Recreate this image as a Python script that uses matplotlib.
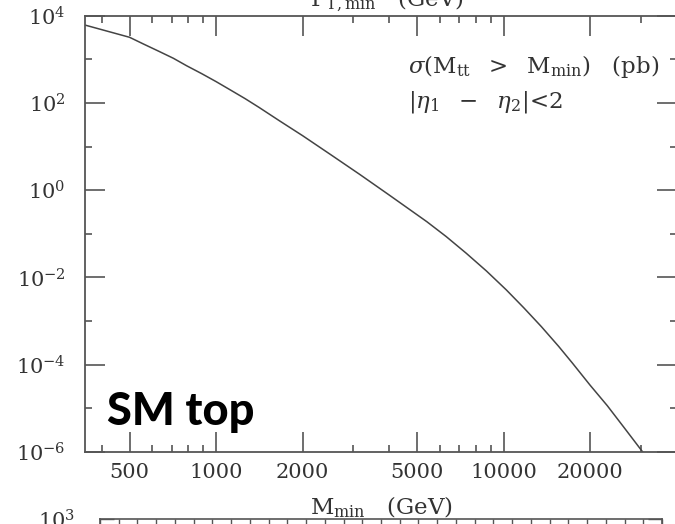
import math
import matplotlib
matplotlib.use("Agg")
import matplotlib.pyplot as plt
import matplotlib.ticker as mticker

# (M_min in GeV, sigma in pb)
m_min = [350, 500, 560, 630, 710, 790, 890, 1000, 1120, 1260, 1410, 1660,
         2000, 2510, 3160, 3980, 5400, 6300, 7400, 8700, 10200, 11750, 13500,
         15500, 17300, 19950, 22900, 26300, 30400]
sigma = [6100, 3200, 2230, 1545, 1057, 711, 471, 308, 199, 126, 79, 39,
         17.7, 6.44, 2.29, 0.79, 0.19, 0.087, 0.036, 0.0141, 0.0052, 0.0020,
         7.5e-4, 2.65e-4, 1.1e-4, 3.4e-5, 1.15e-5, 3.5e-6, 1.0e-6]

x_major = [500, 1000, 2000, 5000, 10000, 20000]
x_minor = [400, 600, 700, 800, 900, 3000, 4000, 6000, 7000, 8000, 9000, 30000, 40000]
y_major = [1e-6, 1e-4, 1e-2, 1e0, 1e2, 1e4]
y_minor = [1e-5, 1e-3, 1e-1, 1e1, 1e3]

plt.rcParams["font.family"] = "DejaVu Serif"
plt.rcParams["mathtext.fontset"] = "dejavuserif"

W, H = 675, 524
fig = plt.figure(figsize=(W / 100, H / 100), dpi=100)

spine_col = "#555555"
text_col = "#333333"

# main panel, right edge sits just outside the picture
ax = fig.add_axes([85 / W, (H - 452) / H, 592 / W, 436.3 / H])
ax.plot(m_min, sigma, color="#444444", lw=1.1)
ax.set_xscale("log")
ax.set_yscale("log")
ax.set_xlim(350, 40000)
ax.set_ylim(1e-6, 1e4)

ax.xaxis.set_major_locator(mticker.FixedLocator(x_major))
ax.xaxis.set_minor_locator(mticker.FixedLocator(x_minor))
ax.xaxis.set_major_formatter(mticker.FixedFormatter([str(v) for v in x_major]))
ax.xaxis.set_minor_formatter(mticker.NullFormatter())
ax.yaxis.set_major_locator(mticker.FixedLocator(y_major))
ax.yaxis.set_minor_locator(mticker.FixedLocator(y_minor))
ax.yaxis.set_major_formatter(mticker.FuncFormatter(
    lambda v, p: r"$10^{%d}$" % round(math.log10(v))))
ax.yaxis.set_minor_formatter(mticker.NullFormatter())

ax.tick_params(which="both", direction="in", top=True, right=True,
               color=spine_col, width=1.2, labelcolor=text_col, labelsize=15)
ax.tick_params(which="major", length=14.5)
ax.tick_params(which="minor", length=5)
ax.tick_params(axis="x", which="major", pad=8)
ax.tick_params(axis="y", which="major", pad=14)
for s in ax.spines.values():
    s.set_color(spine_col)
    s.set_linewidth(1.3)

fig.text(408 / W, (H - 67) / H,
         r"$\sigma(\mathrm{M_{tt}}\ \ >\ \ \mathrm{M_{min}})\ \ \ (\mathrm{pb})$",
         fontsize=16.5, color=text_col, va="center", ha="left")
fig.text(408 / W, (H - 102) / H, r"$|\eta_1\ \ -\ \ \eta_2|$<2",
         fontsize=16.5, color=text_col, va="center", ha="left")

fig.text(107 / W, (H - 425) / H, "SM top", family="Lato", fontweight="black",
         fontsize=32.5, color="black", va="baseline", ha="left")

# axis titles of this and the panel above, both cut by the crop
fig.text(310 / W, (H - 514) / H, r"$\mathrm{M_{min}}\ \ \ $(GeV)",
         fontsize=16.5, color=text_col, va="baseline", ha="left")
fig.text(310 / W, (H - 6) / H, r"$\mathrm{P_{T,min}}\ \ \ $(GeV)",
         fontsize=16.5, color=text_col, va="baseline", ha="left")

# top of the next panel peeking in at the bottom
ax2 = fig.add_axes([100 / W, (H - 519 - 300) / H, 562 / W, 300 / H])
ax2.set_xlim(0, 30)
ax2.set_yscale("log")
ax2.set_ylim(1e-1, 1e3)
ax2.xaxis.set_major_locator(mticker.MultipleLocator(1))
ax2.xaxis.set_major_formatter(mticker.NullFormatter())
ax2.yaxis.set_major_locator(mticker.FixedLocator([1e3]))
ax2.yaxis.set_major_formatter(mticker.FixedFormatter([r"$10^{3}$"]))
ax2.yaxis.set_minor_locator(mticker.NullLocator())
ax2.tick_params(which="both", direction="in", top=True, right=True,
                color=spine_col, width=1.0, length=5, labelcolor=text_col,
                labelsize=15)
ax2.tick_params(axis="y", length=10, pad=18)
for s in ax2.spines.values():
    s.set_color(spine_col)
    s.set_linewidth(1.2)

fig.savefig("out.png", dpi=100)
